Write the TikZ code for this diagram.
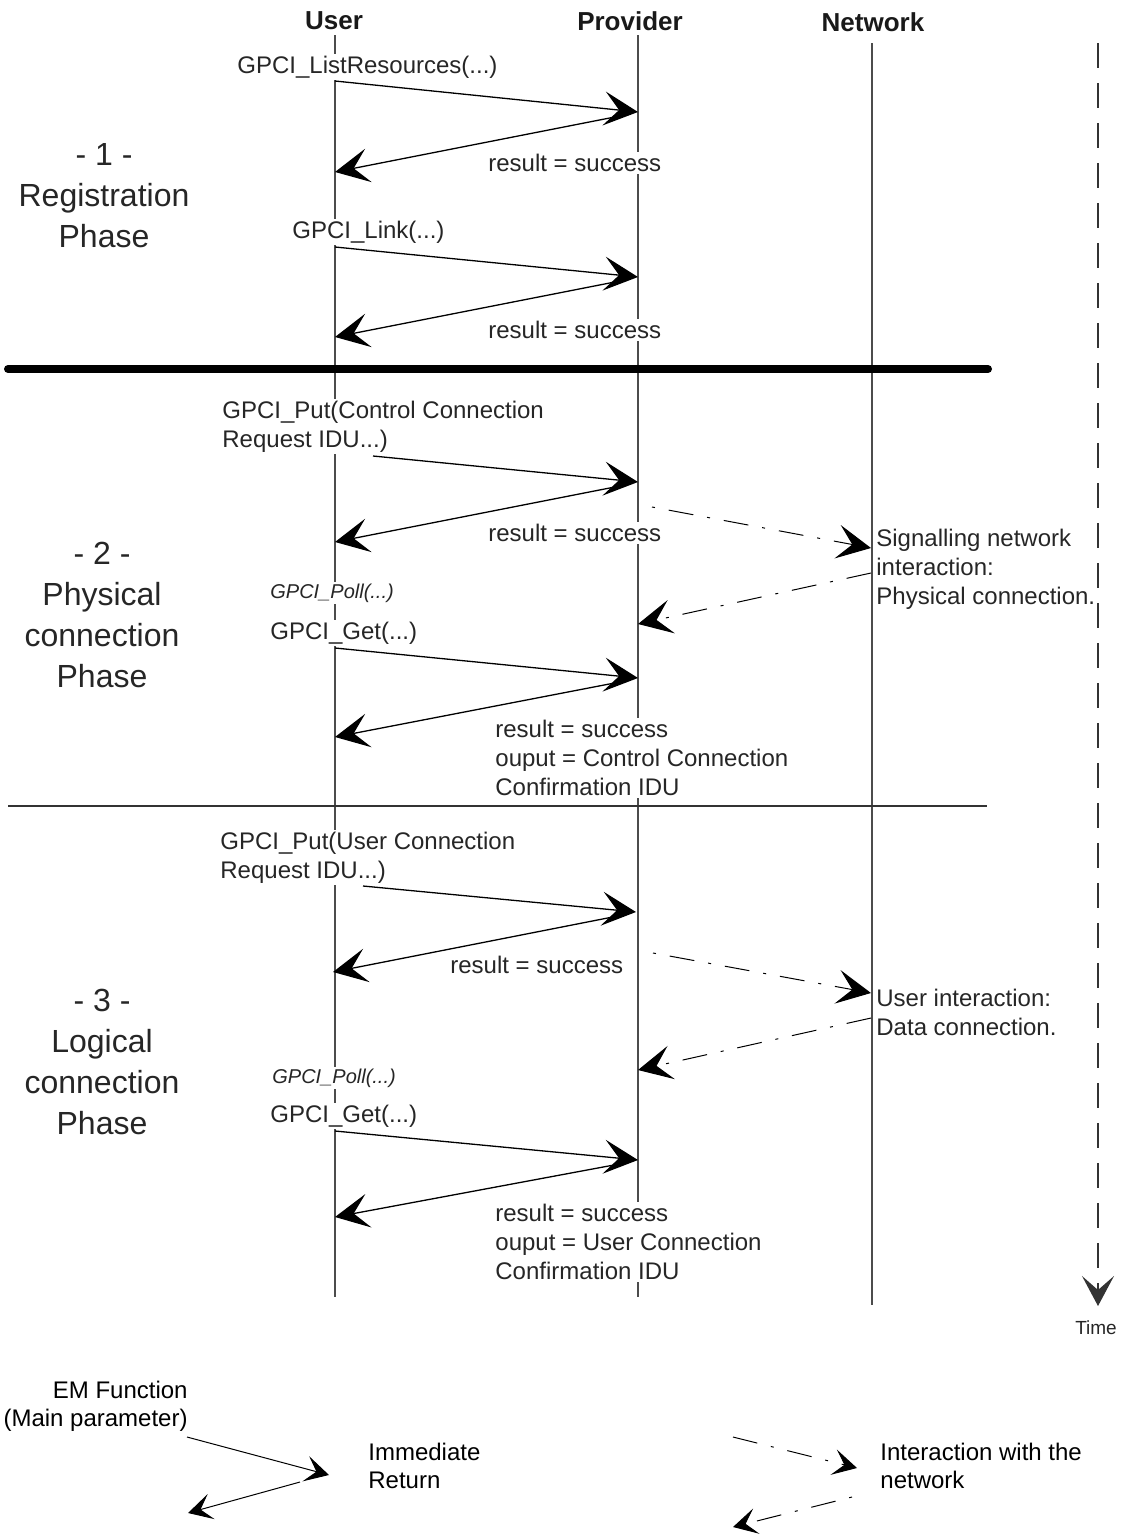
\documentclass[tikz,border=0pt]{standalone}
\usepackage{fontspec}
\setmainfont{Liberation Sans}
\usetikzlibrary{arrows.meta}
\begin{document}
\begin{tikzpicture}[x=0.5pt,y=-0.5pt,
  lifeline/.style={draw=black!70, line width=0.7pt},
  bigtip/.style={-{Stealth[length=17pt,width=17pt,inset=7.5pt]}},
  smalltip/.style={-{Stealth[length=12pt,width=13pt,inset=5.5pt]}},
  msg/.style={draw=black, line width=0.65pt, bigtip},
  netfwd/.style={draw=black, line width=0.5pt, bigtip, dash pattern=on 1.5pt off 7pt on 12.5pt off 7pt},
  netback/.style={draw=black, line width=0.5pt, bigtip, dash pattern=on 12.5pt off 7pt on 1.5pt off 7pt},
  lbl/.style={font=\fontsize{12}{14.5}\selectfont, text=black!85, fill=white, inner sep=1pt, anchor=west, align=left},
  note/.style={font=\fontsize{12}{14.5}\selectfont, text=black!85, inner sep=0pt, anchor=west, align=left},
  poll/.style={font=\fontsize{10}{12}\selectfont\itshape, text=black!85, fill=white, inner sep=1pt, anchor=west},
  hdr/.style={font=\fontsize{13}{15}\selectfont\bfseries, text=black!90, inner sep=1pt},
  phase/.style={font=\fontsize{16}{20.5}\selectfont, text=black!85, align=center},
  legend/.style={font=\fontsize{12}{14}\selectfont, inner sep=0pt, align=left},
]
\useasboundingbox (0,0) rectangle (1125,1537);

% ---- lifelines ----
\coordinate (uT) at (335,35);   \coordinate (uB) at (335,1297);
\coordinate (pT) at (638,35);   \coordinate (pB) at (638,1297);
\coordinate (nT) at (872,43);   \coordinate (nB) at (872,1305);
\coordinate (tT) at (1098,43);  \coordinate (tB) at (1098,1306);
\draw[lifeline] (uT) -- (uB);
\draw[lifeline] (pT) -- (pB);
\draw[lifeline] (nT) -- (nB);
\draw[draw=black!80, line width=0.6pt, dash pattern=on 12.5pt off 7.5pt,
      -{Stealth[length=15pt,width=16pt,inset=7pt]}] (tT) -- (tB);

% ---- headers ----
\node[hdr] (hUser) at (334,21) {User};
\node[hdr] (hProv) at (630,21) {Provider};
\node[hdr] (hNet)  at (873,22) {Network};
\node[font=\fontsize{9.5}{11}\selectfont, text=black!85] (hTime) at (1096,1328) {Time};

% ---- phase separators ----
\coordinate (s1L) at (8,369);  \coordinate (s1R) at (988,369);
\coordinate (s2L) at (8,806);  \coordinate (s2R) at (987,806);
\draw[line width=4pt, line cap=round] (s1L) -- (s1R);
\draw[line width=0.6pt, black!80] (s2L) -- (s2R);

% ---- phase titles ----
\node[phase] (ph1) at (104,196) {- 1 -\\Registration\\Phase};
\node[phase] (ph2) at (102,615) {- 2 -\\Physical\\connection\\Phase};
\node[phase] (ph3) at (102,1062) {- 3 -\\Logical\\connection\\Phase};

% ---- phase 1 ----
\node[lbl] (l1) at (235,67) {GPCI\_ListResources(...)};
\node[lbl] (r1) at (486,163) {result = success};
\coordinate (a1s) at (335,81);  \coordinate (a1e) at (638,112);
\coordinate (b1s) at (630,114); \coordinate (b1e) at (335,172);
\draw[msg] (a1s) -- (a1e);
\draw[msg] (b1s) -- (b1e);

\node[lbl] (l2) at (290,232) {GPCI\_Link(...)};
\node[lbl] (r2) at (486,330) {result = success};
\coordinate (a2s) at (335,247); \coordinate (a2e) at (638,277);
\coordinate (b2s) at (630,279); \coordinate (b2e) at (335,337);
\draw[msg] (a2s) -- (a2e);
\draw[msg] (b2s) -- (b2e);

% ---- phase 2 ----
\node[lbl] (l3) at (220,426.5) {GPCI\_Put(Control Connection\\Request IDU...)};
\node[lbl] (r3) at (486,533) {result = success};
\coordinate (a3s) at (373,456); \coordinate (a3e) at (638,482);
\coordinate (b3s) at (630,484); \coordinate (b3e) at (335,542);
\draw[msg] (a3s) -- (a3e);
\draw[msg] (b3s) -- (b3e);

\coordinate (c3s) at (652,507); \coordinate (c3e) at (871,548);
\coordinate (d3s) at (871,573); \coordinate (d3e) at (638,624);
\draw[netfwd] (c3s) -- (c3e);
\draw[netback] (d3s) -- (d3e);
\node[note] (n3) at (876,569) {Signalling network\\interaction:\\Physical connection.};

\node[poll] (p4) at (268,593) {GPCI\_Poll(...)};
\node[lbl] (l4) at (268,633) {GPCI\_Get(...)};
\node[lbl] (r4) at (493,758) {result = success\\ouput = Control Connection\\Confirmation IDU};
\coordinate (a4s) at (335,648); \coordinate (a4e) at (638,678);
\coordinate (b4s) at (630,680); \coordinate (b4e) at (335,737);
\draw[msg] (a4s) -- (a4e);
\draw[msg] (b4s) -- (b4e);

% ---- phase 3 ----
\node[lbl] (l5) at (218,857.5) {GPCI\_Put(User Connection\\Request IDU...)};
\node[lbl] (r5) at (448,965) {result = success};
\coordinate (a5s) at (363,886); \coordinate (a5e) at (636,912);
\coordinate (b5s) at (628,914); \coordinate (b5e) at (333,972);
\draw[msg] (a5s) -- (a5e);
\draw[msg] (b5s) -- (b5e);

\coordinate (c5s) at (653,953);  \coordinate (c5e) at (871,993);
\coordinate (d5s) at (871,1018); \coordinate (d5e) at (638,1070);
\draw[netfwd] (c5s) -- (c5e);
\draw[netback] (d5s) -- (d5e);
\node[note] (n5) at (876,1012) {User interaction:\\Data connection.};

\node[poll] (p6) at (270,1078) {GPCI\_Poll(...)};
\node[lbl] (l6) at (268,1116) {GPCI\_Get(...)};
\node[lbl] (r6) at (493,1242) {result = success\\ouput = User Connection\\Confirmation IDU};
\coordinate (a6s) at (335,1131); \coordinate (a6e) at (638,1160);
\coordinate (b6s) at (630,1162); \coordinate (b6e) at (335,1217);
\draw[msg] (a6s) -- (a6e);
\draw[msg] (b6s) -- (b6e);

% ---- legend ----
\node[legend, anchor=east, align=right] (kEM) at (188,1406) {EM Function\\(Main parameter)};
\node[legend, anchor=west] (kRet) at (368,1466) {Immediate\\Return};
\node[legend, anchor=west] (kNet) at (880,1466) {Interaction with the\\network};
\coordinate (ka) at (187,1437); \coordinate (kb) at (329,1475);
\coordinate (kc) at (300,1482); \coordinate (kd) at (188,1513);
\draw[draw=black, line width=0.5pt, smalltip] (ka) -- (kb);
\draw[draw=black, line width=0.5pt, smalltip] (kc) -- (kd);
\coordinate (ke) at (733,1437); \coordinate (kf) at (857,1468);
\coordinate (kg) at (852,1497); \coordinate (kh) at (733,1527);
\draw[draw=black, line width=0.5pt, smalltip, dash pattern=on 12.5pt off 7pt on 1.5pt off 7pt] (ke) -- (kf);
\draw[draw=black, line width=0.5pt, smalltip, dash pattern=on 1.5pt off 7pt on 12.5pt off 7pt] (kg) -- (kh);
\end{tikzpicture}
\end{document}
